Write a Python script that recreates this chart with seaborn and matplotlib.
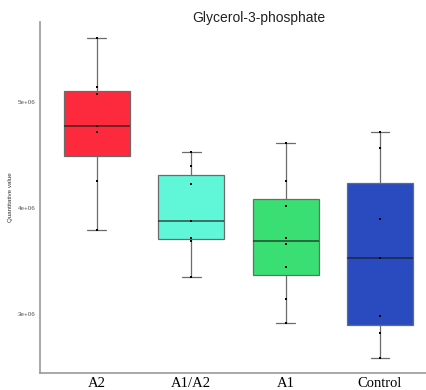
"""
Boxplot of Glycerol-3-phosphate quantitative values by group.
"""

import numpy as np
import pandas as pd
import matplotlib
matplotlib.use("Agg")
import matplotlib.pyplot as plt
import seaborn as sns

# data
groups = ["A2", "A1/A2", "A1", "Control"]
a2_values = [5.597e6, 5.138e6, 5.070e6, 4.771e6, 4.718e6, 4.250e6, 3.792e6]
a1a2_values = [4.523e6, 4.392e6, 4.228e6, 3.874e6, 3.717e6, 3.691e6, 3.349e6]
a1_values = [4.614e6, 4.253e6, 4.021e6, 3.717e6, 3.660e6, 3.446e6, 3.142e6, 2.912e6]
control_values = [4.715e6, 4.567e6, 3.893e6, 3.531e6, 2.979e6, 2.819e6, 2.590e6]
box_colors = ["#FC2A3C", "#5FF7D8", "#3ADF74", "#2A4BBF"]
y_ticks = [3e6, 4e6, 5e6]
y_tick_labels = ["3e+06", "4e+06", "5e+06"]

df = pd.DataFrame({
    "group": (["A2"] * len(a2_values) + ["A1/A2"] * len(a1a2_values)
              + ["A1"] * len(a1_values) + ["Control"] * len(control_values)),
    "value": a2_values + a1a2_values + a1_values + control_values,
})

sns.set_style("white")
fig = plt.figure(figsize=(4.27, 3.9), dpi=100)
ax = fig.add_axes([40 / 427, 17 / 390, 396.7 / 427, 351 / 390])

sns.boxplot(
    data=df, x="group", y="value", order=groups, hue="group",
    palette=box_colors, saturation=1, width=0.7, showfliers=False, ax=ax,
    boxprops=dict(edgecolor="#6b6b6b", linewidth=0.9),
    whiskerprops=dict(color="#6b6b6b", linewidth=0.9),
    capprops=dict(color="#6b6b6b", linewidth=0.9),
    medianprops=dict(color="#1a1a1a", linewidth=1.2, alpha=0.7),
    legend=False,
)

# shorten the whisker caps to about 0.2 category units
for line in ax.lines:
    xd = line.get_xdata()
    yd = line.get_ydata()
    if len(xd) == 2 and yd[0] == yd[1] and 0.2 < abs(xd[1] - xd[0]) < 0.5:
        c = (xd[0] + xd[1]) / 2
        line.set_xdata([c - 0.1, c + 0.1])

sns.stripplot(
    data=df, x="group", y="value", order=groups, jitter=False,
    color="black", marker="s", size=1.8, ax=ax,
)

ax.set_xlim(-0.6, 3.6)
ax.set_ylim(2.445e6, 5.75e6)
ax.set_yticks(y_ticks)
ax.set_yticklabels(y_tick_labels, fontsize=4.5, color="#555555", family="Liberation Sans")
ax.set_xticks(range(len(groups)))
ax.set_xticklabels(groups, fontsize=10.5, family="Liberation Serif", color="black")
ax.tick_params(axis="y", length=2, width=0.6, color="#888888", pad=1)
ax.tick_params(axis="x", length=2, width=0.6, color="#888888", pad=1)
ax.set_xlabel("")
ax.set_ylabel("Quantitative value", fontsize=4.5, color="#333333",
              family="Liberation Sans", labelpad=4)

for side in ["top", "right"]:
    ax.spines[side].set_visible(False)
for side in ["left", "bottom"]:
    ax.spines[side].set_color("#999999")
    ax.spines[side].set_linewidth(1.2)

fig.text(259 / 427, 1 - 18 / 390, "Glycerol-3-phosphate", ha="center", va="center",
         fontsize=10, color="#222222", family="Liberation Sans")

fig.savefig("out.png", dpi=100)
